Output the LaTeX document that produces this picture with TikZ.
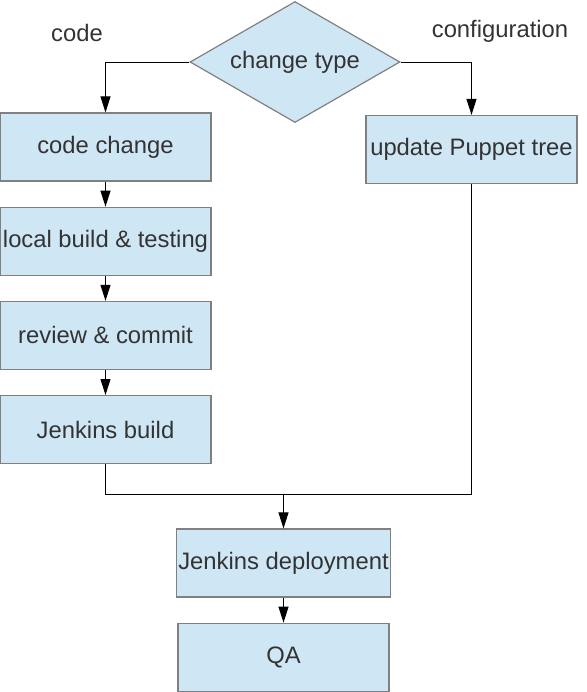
\documentclass[tikz,border=0pt]{standalone}
\usepackage{fontspec}
\setmainfont{Liberation Sans}
\usetikzlibrary{shapes,arrows.meta,positioning,calc}
\definecolor{boxfill}{HTML}{CFE7F5}
\definecolor{boxline}{HTML}{808080}
\definecolor{textgray}{HTML}{333333}
\tikzset{
block/.style = {draw=boxline, fill=boxfill, rectangle, align = center, minimum width=105.5pt, minimum height=34pt, inner sep=1pt, text=textgray, line width=0.6pt},
condition/.style = {draw=boxline, fill=boxfill, diamond, aspect=1.74, align = center, minimum width=105pt, minimum height=60.5pt, inner sep=1pt, text=textgray, line width=0.6pt},
branch/.style = {text=textgray, inner sep=1pt},
}
\begin{document}
\begin{tikzpicture}[auto, node distance=12.5pt, >={Triangle[length=8pt,width=5pt]}, line width=0.5pt, font=\fontsize{11.9pt}{14pt}\selectfont]
    \useasboundingbox (0,0) rectangle (293pt,-346pt);
    \node [condition] (type) at (147.5pt,-31pt) {change type};
    \node [branch] (codelabel) at (38.5pt,-16.5pt) {code};
    \node [branch] (conflabel) at (250pt,-15.5pt) {configuration};
    % code branch
    \node [block] (code) at (52.75pt,-73.5pt) {code change};
    \node [block, below=of code] (local) {local build \& testing};
    \node [block, below=of local] (review) {review \& commit};
    \node [block, below=of review] (jbuild) {Jenkins build};
    % configuration branch
    \node [block] (puppet) at (235.75pt,-74.75pt) {update Puppet tree};
    % common part
    \node [block] (deploy) at (141.75pt,-281.5pt) {Jenkins deployment};
    \node [block, below=of deploy] (qa) {QA};
    \coordinate (merge) at ($(deploy.north)+(0,17pt)$);

    \draw [->] (type.west) -| (code.north);
    \draw [->] (type.east) -| (puppet.north);
    \draw [->] (code) -- (local);
    \draw [->] (local) -- (review);
    \draw [->] (review) -- (jbuild);
    \draw (jbuild.south) -- (jbuild.south |- merge) -- (puppet.south |- merge) -- (puppet.south);
    \draw [->] (merge) -- (deploy.north);
    \draw [->] (deploy) -- (qa);
\end{tikzpicture}
\end{document}
